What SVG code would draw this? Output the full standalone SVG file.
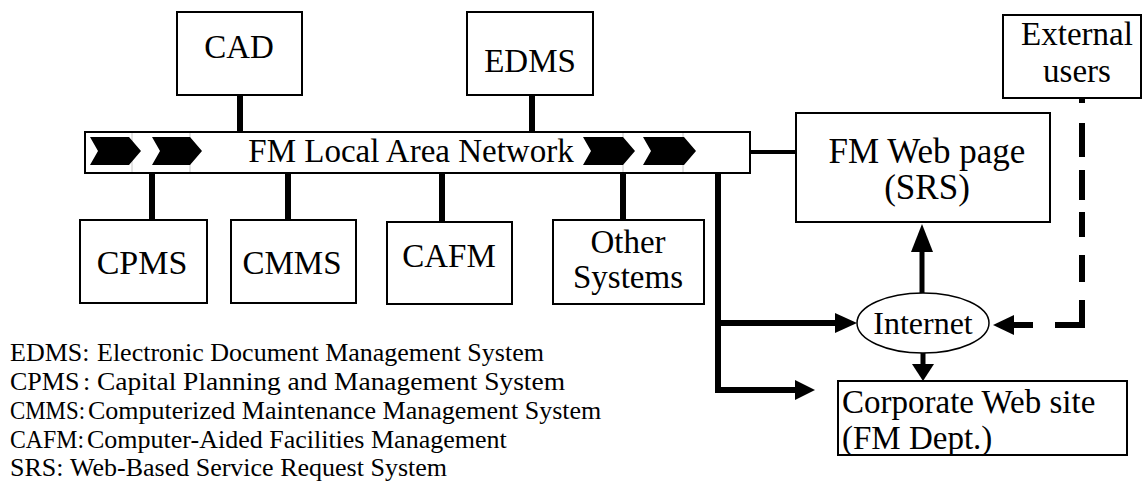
<svg xmlns="http://www.w3.org/2000/svg" width="1143" height="494" viewBox="0 0 1143 494">
<style>
.box{fill:#fff;stroke:#000;stroke-width:2}
.lbl{font-family:"Liberation Serif","Times New Roman",serif;font-size:33px;fill:#000;text-anchor:middle}
.leg{font-family:"Liberation Serif","Times New Roman",serif;font-size:26px;fill:#000}
.thick{stroke:#000;stroke-width:6;fill:none}
.thin{stroke:#c8c8c8;stroke-width:1}
.chev{fill:#000}
</style>
<rect width="1143" height="494" fill="#fff"/>
<g id="connectors">
<line class="thick" x1="240" y1="95" x2="240" y2="132"/>
<line class="thick" x1="532" y1="95" x2="532" y2="132"/>
<line class="thick" x1="152" y1="173" x2="152" y2="220"/>
<line class="thick" x1="288" y1="173" x2="288" y2="220"/>
<line class="thick" x1="442" y1="173" x2="442" y2="222"/>
<line class="thick" x1="623" y1="173" x2="623" y2="220"/>
<line stroke="#000" stroke-width="4" x1="750" y1="152" x2="796" y2="152"/>
<path class="thick" d="M718,173 V390 H797 M718,323 H838"/>
<polygon points="815,390 795,380 795,400"/>
<polygon points="857,323 835,313 835,333"/>
<line stroke="#000" stroke-width="5" x1="922" y1="293" x2="922" y2="250"/>
<polygon points="922,224 911,252 933,252"/>
<line stroke="#000" stroke-width="5" x1="923" y1="353" x2="923" y2="366"/>
<polygon points="923,381 912,364 934,364"/>
<path class="thick" d="M1082,98 V103 M1082,123 V157 M1082,170 V200 M1082,212 V237 M1082,255 V282 M1082,300 V325 H1055 M1033,325 H1012"/>
<polygon points="993,325 1014,315 1014,335"/>
</g>
<g id="lan">
<rect class="box" x="85" y="132" width="665" height="41"/>
<line class="thin" x1="132" y1="133" x2="132" y2="172"/>
<line class="thin" x1="190" y1="133" x2="190" y2="172"/>
<line class="thin" x1="623" y1="133" x2="623" y2="172"/>
<line class="thin" x1="683" y1="133" x2="683" y2="172"/>
<polygon class="chev" points="90,137 129,137 141,151 129,165 90,165 98,151"/>
<polygon class="chev" points="152,137 190,137 202,151 190,165 152,165 160,151"/>
<polygon class="chev" points="583,137 623,137 635,151 623,165 583,165 591,151"/>
<polygon class="chev" points="643,137 684,137 696,151 684,165 643,165 651,151"/>
<text class="lbl" x="411" y="162">FM Local Area Network</text>
</g>
<g id="cad"><rect class="box" x="177" y="12" width="125" height="83"/><text class="lbl" x="239" y="58">CAD</text></g>
<g id="edms"><rect class="box" x="467" y="12" width="126" height="83"/><text class="lbl" x="530" y="72">EDMS</text></g>
<g id="cpms"><rect class="box" x="80" y="220" width="127" height="83"/><text class="lbl" x="142" y="274" style="font-size:34px">CPMS</text></g>
<g id="cmms"><rect class="box" x="231" y="220" width="125" height="83"/><text class="lbl" x="292" y="274">CMMS</text></g>
<g id="cafm"><rect class="box" x="387" y="222" width="125" height="82"/><text class="lbl" x="449" y="267">CAFM</text></g>
<g id="other"><rect class="box" x="553" y="220" width="151" height="84"/><text class="lbl" x="628" y="253">Other</text><text class="lbl" x="628" y="288">Systems</text></g>
<g id="webpage"><rect class="box" x="796" y="113" width="254" height="109"/><text class="lbl" x="927" y="163" style="font-size:35px">FM Web page</text><text class="lbl" x="927" y="199" style="font-size:35px">(SRS)</text></g>
<g id="external"><rect class="box" x="1003" y="15" width="138" height="83"/><text class="lbl" x="1077" y="45">External</text><text class="lbl" x="1077" y="82">users</text></g>
<g id="internet"><ellipse cx="923" cy="323" rx="66" ry="30" fill="#fff" stroke="#000" stroke-width="1.5"/><text class="lbl" x="923" y="334" style="font-size:32px">Internet</text></g>
<g id="corporate"><rect class="box" x="838" y="381" width="289" height="74"/><text class="lbl" x="842" y="413" style="text-anchor:start">Corporate Web site</text><text class="lbl" x="842" y="449" style="text-anchor:start">(FM Dept.)</text></g>
<g id="legend">
<text class="leg" x="10" y="361">EDMS:</text><text class="leg" x="97" y="361">Electronic Document Management System</text>
<text class="leg" x="10" y="390">CPMS</text><text class="leg" x="83" y="390">:</text><text class="leg" x="97" y="390" textLength="468" lengthAdjust="spacingAndGlyphs">Capital Planning and Management System</text>
<text class="leg" x="10" y="419" textLength="75" lengthAdjust="spacingAndGlyphs">CMMS:</text><text class="leg" x="88" y="419">Computerized Maintenance Management System</text>
<text class="leg" x="10" y="448" textLength="74" lengthAdjust="spacingAndGlyphs">CAFM:</text><text class="leg" x="87" y="448">Computer-Aided Facilities Management</text>
<text class="leg" x="10" y="476">SRS:</text><text class="leg" x="70" y="476">Web-Based Service Request System</text>
</g>
</svg>
